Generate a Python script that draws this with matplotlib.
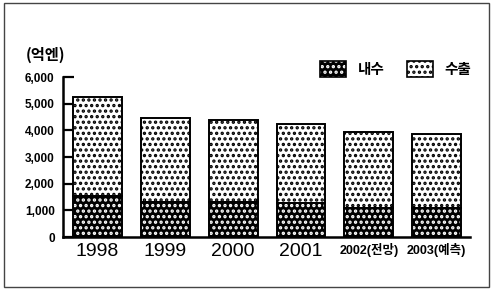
import matplotlib
matplotlib.use("Agg")
import matplotlib.pyplot as plt
from matplotlib.patches import Patch, Rectangle

plt.rcParams['font.family'] = ['Liberation Sans', 'Noto Sans CJK KR', 'DejaVu Sans']
plt.rcParams['hatch.linewidth'] = 1.6

# data (억엔)
years = ['1998', '1999', '2000', '2001', '2002(전망)', '2003(예측)']
domestic = [1530, 1310, 1310, 1290, 1090, 1090]
export = [3720, 3140, 3080, 2940, 2840, 2770]

fig = plt.figure(figsize=(4.91, 2.89), dpi=100)
W, H = 491, 289
ax = fig.add_axes([63 / W, 52 / H, 407 / W, 160 / H])

x = list(range(len(years)))
wid = 0.72

# domestic: black with white dots
ax.bar(x, domestic, width=wid, color='black', edgecolor='white', hatch='...', lw=0, zorder=2)
# export: white with black dots
ax.bar(x, export, bottom=domestic, width=wid, color='white', edgecolor='black', hatch='...', lw=0, zorder=2)
# outlines
ax.bar(x, domestic, width=wid, fill=False, edgecolor='black', lw=1.4, zorder=3)
ax.bar(x, export, bottom=domestic, width=wid, fill=False, edgecolor='black', lw=1.4, zorder=3)

ax.set_xlim(-0.505, 5.49)
ax.set_ylim(0, 6000)
ax.set_yticks(range(0, 6001, 1000))
ax.set_yticklabels([f'{v:,}' for v in range(0, 6001, 1000)], fontsize=8.5, fontweight='bold')
ax.tick_params(axis='y', direction='in', length=8, width=1.6, pad=6)
ax.set_xticks(x)
ax.set_xticklabels(years)
ax.tick_params(axis='x', length=0, pad=4)
for i, lab in enumerate(ax.get_xticklabels()):
    if i < 4:
        lab.set_fontsize(14)
    else:
        lab.set_fontsize(9)
        lab.set_fontweight('bold')

for s in ['top', 'right']:
    ax.spines[s].set_visible(False)
ax.spines['left'].set_linewidth(1.8)
ax.spines['bottom'].set_linewidth(1.8)

fig.text(26 / W, 1 - 55 / H, '(억엔)', fontsize=11, fontweight='bold', va='center', ha='left',
         family=['Noto Sans CJK KR'])

h_dom = (Patch(facecolor='black', edgecolor='white', hatch='...', lw=0),
         Patch(fill=False, edgecolor='black', lw=1.2))
h_exp = (Patch(facecolor='white', edgecolor='black', hatch='...', lw=0),
         Patch(fill=False, edgecolor='black', lw=1.2))
leg = fig.legend([h_dom, h_exp], ['내수', '수출'], ncol=2, frameon=False,
                 loc='center left', bbox_to_anchor=(307 / W, 1 - 69 / H),
                 handlelength=1.8, handleheight=1.3, handletextpad=0.8, columnspacing=1.5,
                 prop={'family': 'Noto Sans CJK KR', 'size': 10.5, 'weight': 'bold'})

fig.patches.append(Rectangle((4 / W, 2 / H), 485 / W, 284 / H, transform=fig.transFigure,
                             fill=False, edgecolor='#444444', lw=1))

fig.savefig('out.png', dpi=100)
